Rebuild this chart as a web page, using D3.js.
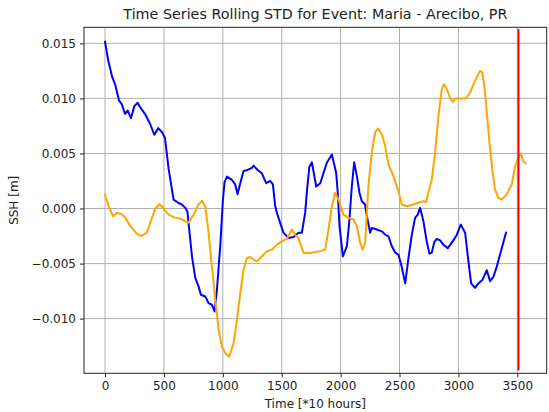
<!DOCTYPE html>
<html>
<head>
<meta charset="utf-8">
<script src="https://cdn.jsdelivr.net/npm/d3@7/dist/d3.min.js"></script>
<style>
  html, body { margin: 0; padding: 0; background: #fff; }
  svg { display: block; font-family: "DejaVu Sans", sans-serif; }
</style>
</head>
<body>
<svg id="chart" width="549" height="412"></svg>
<script>
// Rolling STD series (time in units of 10 hours, SSH in metres)
const blueTime = [0, 28, 62, 85, 119, 141, 170, 192, 220, 249, 277, 297, 339, 382, 418, 452, 486, 509, 540, 582, 625, 653, 681, 700, 709, 738, 766, 794, 814, 851, 879, 907, 930, 950, 978, 1001, 1015, 1035, 1077, 1105, 1125, 1148, 1176, 1210, 1247, 1261, 1295, 1332, 1368, 1402, 1425, 1445, 1459, 1487, 1515, 1558, 1600, 1642, 1671, 1699, 1715, 1735, 1756, 1793, 1827, 1883, 1926, 1962, 1975, 1990, 2019, 2053, 2075, 2095, 2115, 2138, 2160, 2180, 2208, 2223, 2251, 2265, 2307, 2350, 2378, 2406, 2435, 2463, 2491, 2519, 2548, 2576, 2604, 2632, 2655, 2675, 2703, 2731, 2754, 2774, 2797, 2817, 2845, 2873, 2910, 2944, 2986, 3020, 3057, 3085, 3108, 3141, 3169, 3203, 3241, 3269, 3297, 3325, 3368, 3404];
const blueValue = [0.01515, 0.0134, 0.0119, 0.0113, 0.0098, 0.0095, 0.0086, 0.0089, 0.0082, 0.0093, 0.0096, 0.0092, 0.0086, 0.0077, 0.0067, 0.0073, 0.0069, 0.0064, 0.0036, 0.0008, 0.0005, 0.00036, 0.00006, -0.0003, -0.0013, -0.00434, -0.0063, -0.00707, -0.00783, -0.00799, -0.00859, -0.00874, -0.00935, -0.00738, -0.00343, 0.00082, 0.0024, 0.0029, 0.0026, 0.0022, 0.0013, 0.0023, 0.0034, 0.0035, 0.0037, 0.0039, 0.0035, 0.0032, 0.0023, 0.0025, 0.0022, 0.0002, -0.0004, -0.0013, -0.0022, -0.00267, -0.00258, -0.0022, -0.0022, -0.0004, 0.0017, 0.0038, 0.0042, 0.002, 0.0023, 0.00416, 0.0049, 0.00325, 0.0015, -0.0015, -0.00434, -0.00343, -0.001, 0.002, 0.0042, 0.00294, 0.00143, 0.00066, 0.00036, -0.0007, -0.0022, -0.00176, -0.0019, -0.00207, -0.00237, -0.00252, -0.00343, -0.0040, -0.0042, -0.0053, -0.0068, -0.0045, -0.0024, -0.00085, -0.00055, 0.00006, -0.00116, -0.003, -0.0041, -0.004, -0.003, -0.00276, -0.0029, -0.0033, -0.0036, -0.0031, -0.0024, -0.00146, -0.0022, -0.0048, -0.0068, -0.0072, -0.0068, -0.0065, -0.0056, -0.0066, -0.0062, -0.0053, -0.0036, -0.0022];

const orangeTime = [0, 31, 68, 102, 144, 172, 215, 271, 305, 356, 398, 427, 463, 497, 540, 596, 639, 681, 709, 752, 794, 823, 851, 879, 907, 936, 964, 992, 1021, 1054, 1091, 1120, 1148, 1176, 1204, 1233, 1261, 1289, 1332, 1374, 1417, 1459, 1502, 1544, 1586, 1614, 1642, 1685, 1742, 1812, 1869, 1897, 1926, 1954, 1982, 2024, 2067, 2109, 2138, 2166, 2188, 2208, 2223, 2237, 2265, 2293, 2316, 2350, 2378, 2406, 2448, 2491, 2519, 2562, 2618, 2661, 2703, 2726, 2745, 2774, 2802, 2830, 2859, 2878, 2901, 2929, 2952, 2972, 3014, 3065, 3099, 3141, 3184, 3203, 3226, 3246, 3269, 3291, 3311, 3339, 3368, 3410, 3453, 3481, 3509, 3531, 3551, 3571];
const orangeValue = [0.00128, 0.0002, -0.0007, -0.0004, -0.0005, -0.00085, -0.0016, -0.0023, -0.0025, -0.0022, -0.00085, 0.0, 0.0004, 0.0, -0.00055, -0.00085, -0.0009, -0.00116, -0.0013, -0.00055, 0.00036, 0.0007, 0.0002, -0.0022, -0.00525, -0.00829, -0.0110, -0.01254, -0.01314, -0.01345, -0.01223, -0.0101, -0.00768, -0.00556, -0.00449, -0.0044, -0.00465, -0.0048, -0.00434, -0.00389, -0.00373, -0.00328, -0.00298, -0.00276, -0.0019, -0.00237, -0.00267, -0.00404, -0.00404, -0.00389, -0.00373, -0.0019, 0.00021, 0.00143, 0.0008, -0.00055, -0.00085, -0.001, -0.0016, -0.00313, -0.00373, -0.00313, -0.0004, 0.0022, 0.00507, 0.0069, 0.00726, 0.00674, 0.00567, 0.004, 0.00294, 0.00158, 0.00036, 0.00021, 0.00036, 0.00052, 0.00066, 0.00058, 0.00143, 0.00264, 0.00507, 0.0084, 0.01084, 0.0113, 0.01084, 0.01008, 0.00968, 0.01, 0.01, 0.01, 0.01054, 0.0116, 0.0125, 0.01236, 0.01054, 0.0081, 0.00537, 0.00325, 0.00173, 0.00097, 0.00082, 0.00128, 0.00219, 0.00385, 0.00461, 0.005, 0.0043, 0.0041];

// Event marker (landfall time) and its vertical extent
const eventTime = 3510;
const eventSpan = [-0.0147, 0.0163];

const xTicks = [0, 500, 1000, 1500, 2000, 2500, 3000, 3500];
const yTicks = [-0.010, -0.005, 0.000, 0.005, 0.010, 0.015];

const titleText = "Time Series Rolling STD for Event: Maria - Arecibo, PR";
const xLabel = "Time [*10 hours]";
const yLabel = "SSH [m]";

const plot = { left: 84, right: 546.7, top: 27.3, bottom: 373.3 };

const svg = d3.select("#chart");

const x = d3.scaleLinear().domain([-178.5, 3749.5]).range([plot.left, plot.right]);
const y = d3.scaleLinear().domain([-0.014964, 0.016457]).range([plot.bottom, plot.top]);

const fmtY = v => d3.format(".3f")(v).replace("-", "\u2212");

// Grid
const grid = svg.append("g");
grid.selectAll("line.gx").data(xTicks).join("line")
  .attr("x1", d => x(d)).attr("x2", d => x(d))
  .attr("y1", plot.top).attr("y2", plot.bottom)
  .attr("stroke", "#b0b0b0").attr("stroke-width", 1);
grid.selectAll("line.gy").data(yTicks).join("line")
  .attr("y1", d => y(d)).attr("y2", d => y(d))
  .attr("x1", plot.left).attr("x2", plot.right)
  .attr("stroke", "#b0b0b0").attr("stroke-width", 1);

// Series
svg.append("clipPath").attr("id", "plotclip").append("rect")
  .attr("x", plot.left).attr("y", plot.top)
  .attr("width", plot.right - plot.left).attr("height", plot.bottom - plot.top);

const line = d3.line().x(d => x(d[0])).y(d => y(d[1]));
const blueData = blueTime.map((t, i) => [t, blueValue[i]]);
const orangeData = orangeTime.map((t, i) => [t, orangeValue[i]]);

const series = svg.append("g").attr("clip-path", "url(#plotclip)");
series.append("path").datum(blueData)
  .attr("d", line).attr("fill", "none")
  .attr("stroke", "#0000ff").attr("stroke-width", 2)
  .attr("stroke-linejoin", "round").attr("stroke-linecap", "square");
series.append("path").datum(orangeData)
  .attr("d", line).attr("fill", "none")
  .attr("stroke", "#ffa500").attr("stroke-width", 2)
  .attr("stroke-linejoin", "round").attr("stroke-linecap", "square");
series.append("line")
  .attr("x1", x(eventTime)).attr("x2", x(eventTime))
  .attr("y1", y(eventSpan[1])).attr("y2", y(eventSpan[0]))
  .attr("stroke", "#ff0000").attr("stroke-width", 2);

// Axes
const xAxis = d3.axisBottom(x).tickValues(xTicks).tickSize(4).tickPadding(4).tickFormat(d3.format("d"));
const yAxis = d3.axisLeft(y).tickValues(yTicks).tickSize(4).tickPadding(4).tickFormat(fmtY);

const gx = svg.append("g").attr("transform", `translate(0,${plot.bottom})`).call(xAxis);
const gy = svg.append("g").attr("transform", `translate(${plot.left},0)`).call(yAxis);
[gx, gy].forEach(g => {
  g.select(".domain").remove();
  g.selectAll(".tick line").attr("stroke", "#222").attr("stroke-width", 1);
  g.selectAll(".tick text").attr("fill", "#222").style("font-size", "12px")
    .style("font-family", "'DejaVu Sans', sans-serif");
});

// Frame
svg.append("rect")
  .attr("x", plot.left).attr("y", plot.top)
  .attr("width", plot.right - plot.left).attr("height", plot.bottom - plot.top)
  .attr("fill", "none").attr("stroke", "#222").attr("stroke-width", 1);

// Labels
svg.append("text")
  .attr("x", (plot.left + plot.right) / 2).attr("y", 19)
  .attr("text-anchor", "middle").attr("fill", "#222")
  .style("font-size", "14.3px").text(titleText);
svg.append("text")
  .attr("x", (plot.left + plot.right) / 2).attr("y", 408)
  .attr("text-anchor", "middle").attr("fill", "#222")
  .style("font-size", "12px").text(xLabel);
svg.append("text")
  .attr("transform", `translate(18,${(plot.top + plot.bottom) / 2}) rotate(-90)`)
  .attr("text-anchor", "middle").attr("fill", "#222")
  .style("font-size", "12px").text(yLabel);
</script>
</body>
</html>
